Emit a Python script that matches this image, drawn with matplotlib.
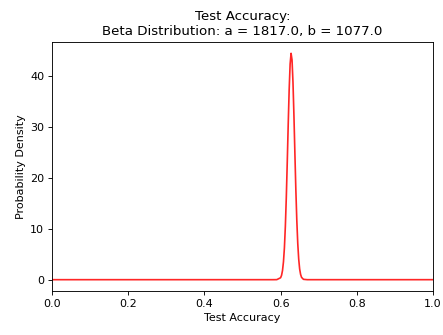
import matplotlib
matplotlib.use("Agg")
import matplotlib.pyplot as plt

# Values (density curve)
x_vals = [0.0, 0.58, 0.59, 0.60, 0.6025, 0.605, 0.6075, 0.61, 0.6125, 0.615, 0.6175,
          0.62, 0.6225, 0.625, 0.6275, 0.63, 0.6325, 0.635, 0.6375, 0.64, 0.6425,
          0.645, 0.6475, 0.65, 0.6525, 0.655, 0.66, 0.67, 1.0]
y_vals = [0.0, 0.0, 0.01, 0.38, 0.85, 1.79, 3.49, 6.25, 10.5, 16.2, 23.1,
          30.5, 37.3, 42.3, 44.4, 43.1, 38.7, 32.2, 24.8, 17.7, 11.7,
          7.15, 4.05, 2.1, 1.03, 0.46, 0.07, 0.0, 0.0]
a_param = 1817.0
b_param = 1077.0

DPI = 80
fig = plt.figure(figsize=(443/DPI, 335/DPI), dpi=DPI)
ax = fig.add_axes([52/443, 1-291/335, (433-52)/443, (291-42)/335])
ax.plot(x_vals, y_vals, color='red', alpha=0.85, linewidth=1.5)
ax.set_xlim(0, 1)
ax.set_title(f"Test Accuracy:\nBeta Distribution: a = {a_param}, b = {b_param}", fontsize=12)
ax.set_xlabel("Test Accuracy")
ax.set_ylabel("Probability Density")
fig.savefig("out.png", dpi=DPI)
